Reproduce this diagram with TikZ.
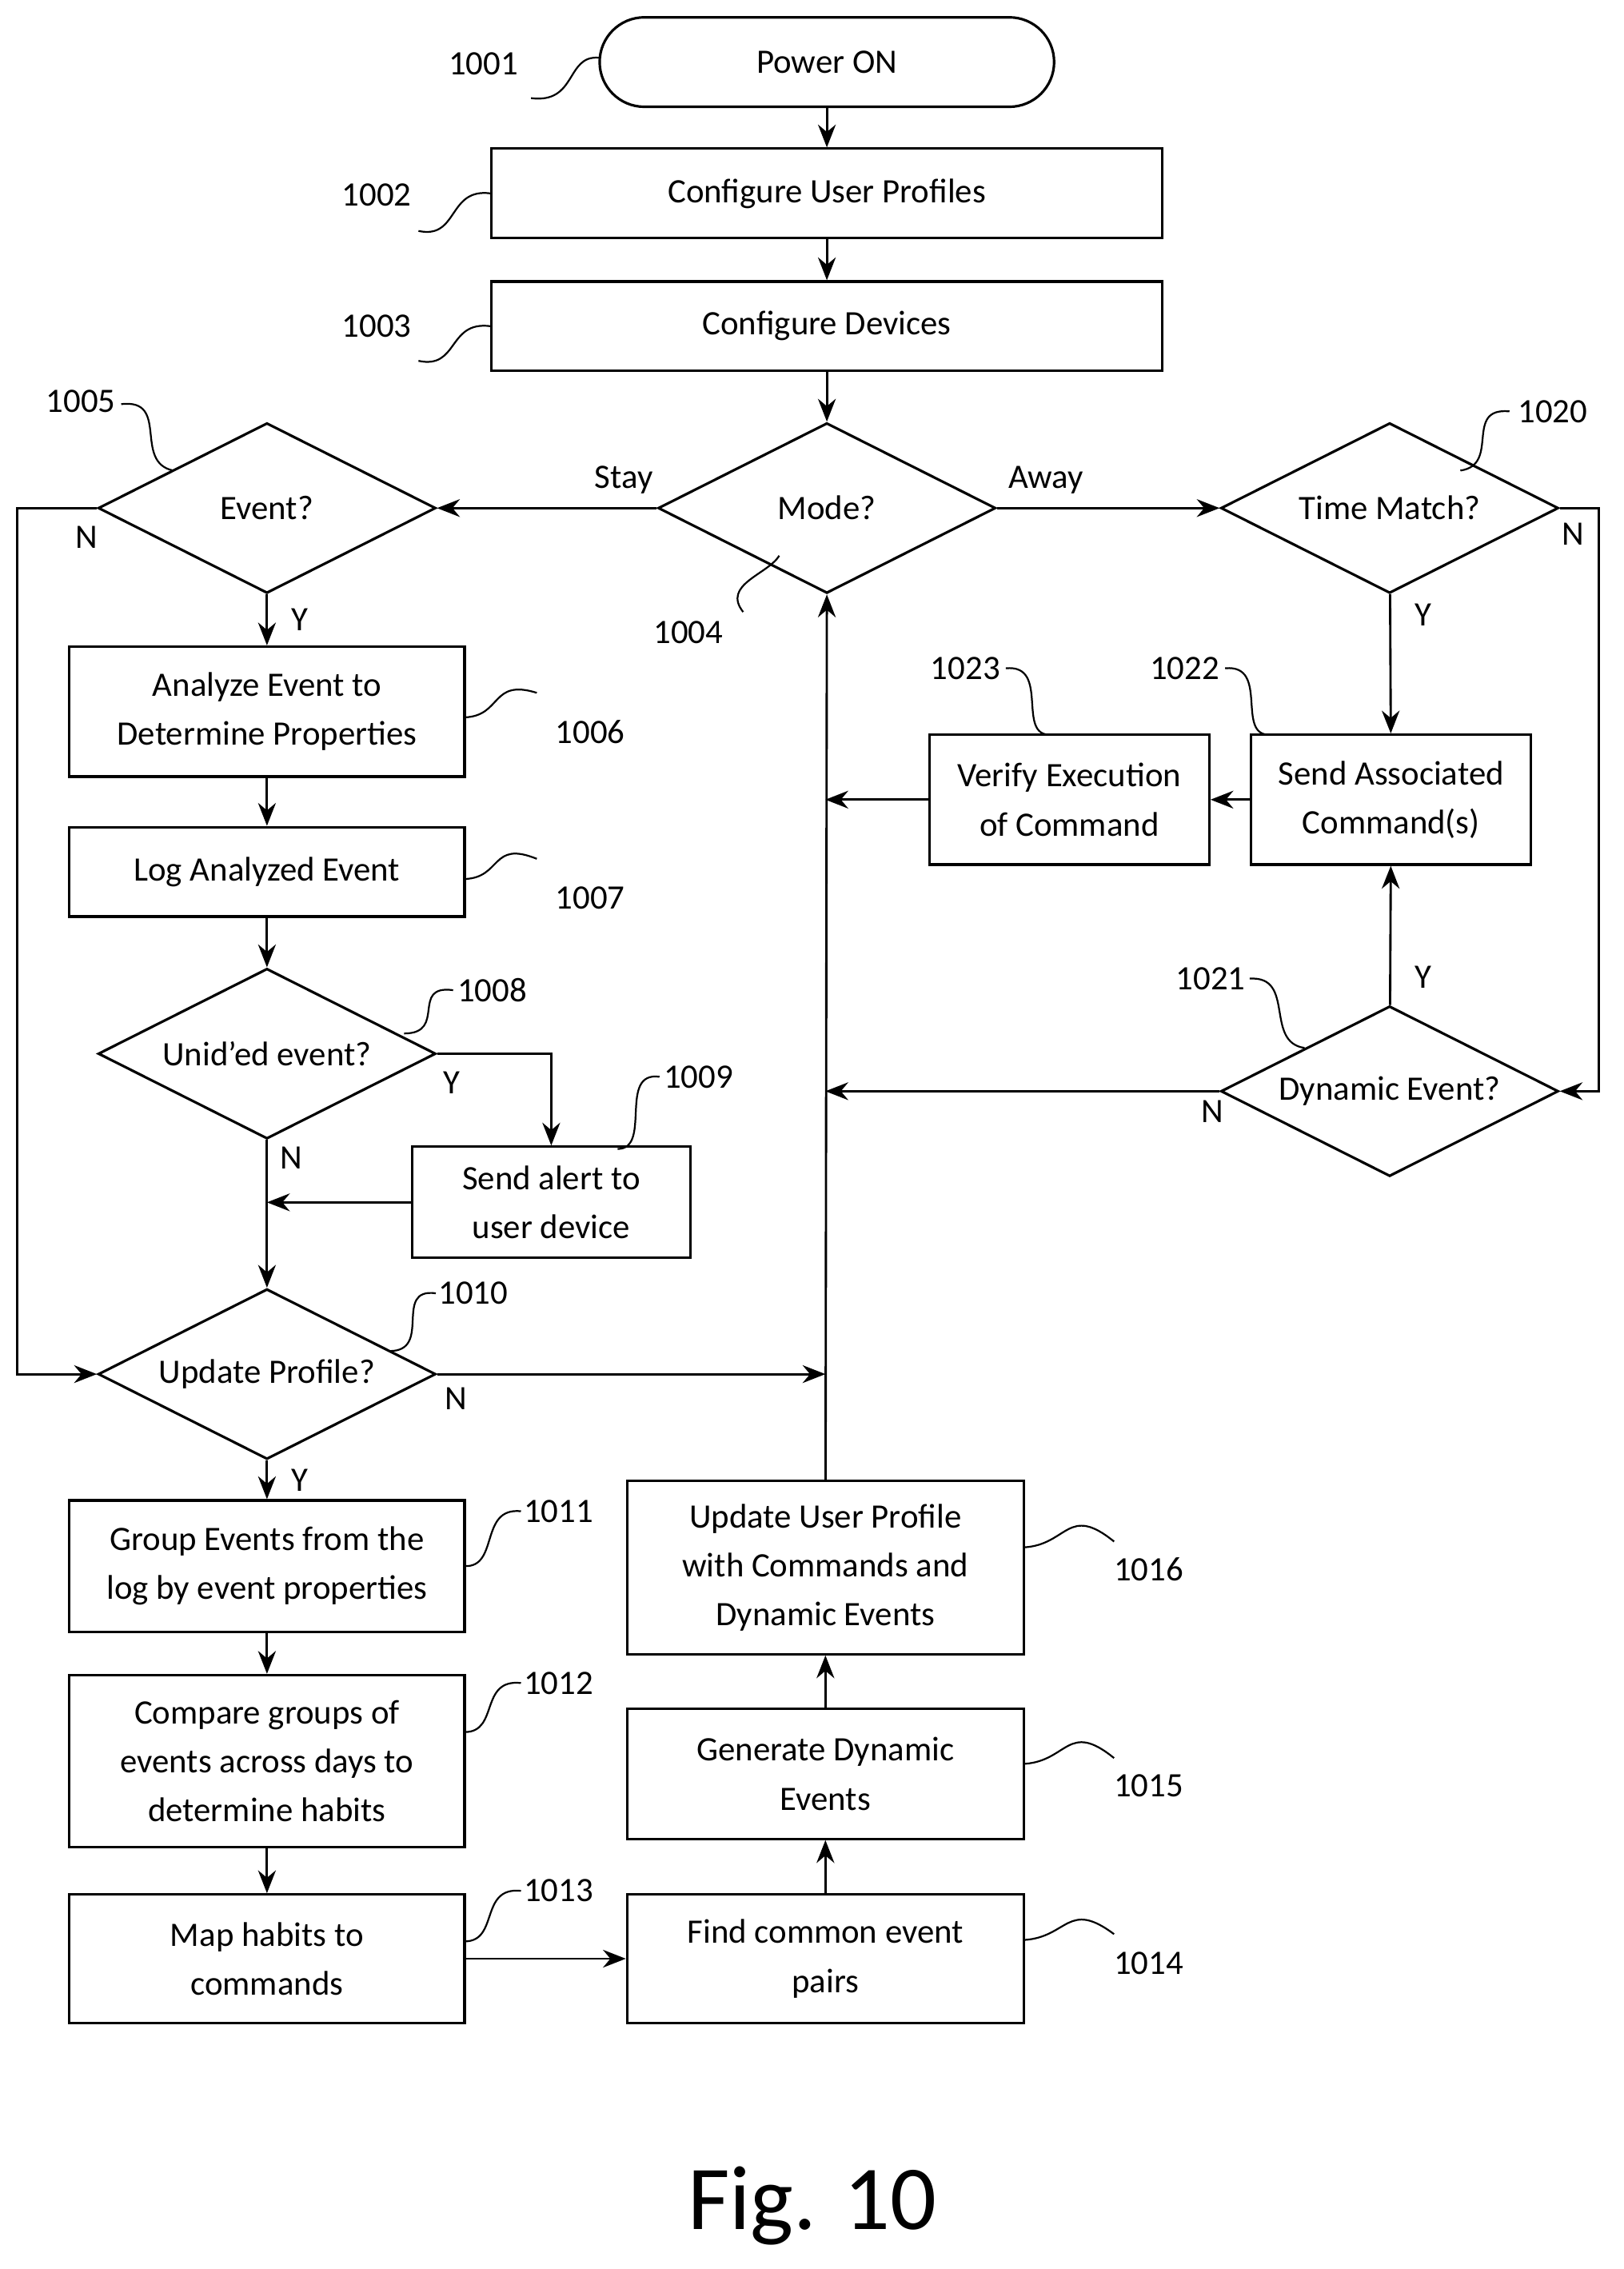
\documentclass[tikz,border=0pt]{standalone}
\usepackage{fontspec}
\setmainfont{Carlito}
\usetikzlibrary{shapes.geometric,arrows.meta}

\tikzset{
  txt/.style={font=\fontsize{13.5}{19.3}\selectfont},
  box/.style={draw,line width=1pt,txt,align=center,inner sep=0pt},
  term/.style={box,rounded corners=0.62cm,minimum width=6.3cm,minimum height=1.24cm},
  dia/.style={draw,line width=1pt,diamond,minimum width=4.68cm,minimum height=2.36cm,inner sep=0pt},
  flow/.style={line width=0.9pt,-{Stealth[length=9pt,width=7pt]}},
  lead/.style={line width=0.7pt},
  num/.style={txt},
  yn/.style={txt}
}
\newcommand{\refnum}[5]{% text pos, text, leader start, leader end
  \node[num] at #1 {#2};
  \draw[lead] #3 .. controls #4 .. #5;}

\begin{document}
\begin{tikzpicture}[x=0.02cm,y=-0.02cm]
\useasboundingbox (0,0) rectangle (1125,1572);

% main column
\node[term] (pwr) at (573,43) {Power ON};
\node[box,minimum width=9.3cm,minimum height=1.24cm] (prof) at (573,134) {Configure User Profiles};
\node[box,minimum width=9.3cm,minimum height=1.24cm] (dev) at (573,226) {Configure Devices};
\node[dia,label={[txt]center:Mode?}] (mode) at (573,352) {};

% stay branch
\node[dia,label={[txt]center:Event?}] (evt) at (185,352) {};
\node[box,minimum width=5.48cm,minimum height=1.8cm] (anl) at (185,493) {Analyze Event to\\Determine Properties};
\node[box,minimum width=5.48cm,minimum height=1.24cm] (log) at (185,604) {Log Analyzed Event};
\node[dia,label={[txt]center:Unid'ed event?}] (unid) at (185,730) {};
\node[box,minimum width=3.86cm,minimum height=1.54cm] (alert) at (382,833) {Send alert to\\user device};
\node[dia,label={[txt]center:Update Profile?}] (upd) at (185,952) {};
\node[box,minimum width=5.48cm,minimum height=1.82cm] (grp) at (185,1085) {Group Events from the\\log by event properties};
\node[box,minimum width=5.48cm,minimum height=2.38cm] (cmp) at (185,1220) {Compare groups of\\events across days to\\determine habits};
\node[box,minimum width=5.48cm,minimum height=1.78cm] (map) at (185,1357) {Map habits to\\commands};
\node[box,minimum width=5.5cm,minimum height=1.78cm] (pair) at (572,1357) {Find common event\\pairs};
\node[box,minimum width=5.5cm,minimum height=1.8cm] (gen) at (572,1229) {Generate Dynamic\\Events};
\node[box,minimum width=5.5cm,minimum height=2.4cm] (uup) at (572,1086) {Update User Profile\\with Commands and\\Dynamic Events};

% away branch
\node[dia,label={[txt]center:Time Match?}] (tm) at (963,352) {};
\node[box,minimum width=3.88cm,minimum height=1.8cm] (sac) at (964,554) {Send Associated\\Command(s)};
\node[box,minimum width=3.88cm,minimum height=1.8cm] (ver) at (741,554) {Verify Execution\\of Command};
\node[dia,label={[txt]center:Dynamic Event?}] (dyn) at (963,756) {};

\coordinate (lft) at (12,352);
\coordinate (rgt) at (1108,352);
\coordinate (jn) at (382,730);

% connectors
\draw[flow] (pwr) -- (prof);
\draw[flow] (prof) -- (dev);
\draw[flow] (dev) -- (mode);
\draw[flow] (mode.west) -- node[yn,above,pos=0.15,yshift=2pt] {Stay} (evt.east);
\draw[flow] (mode.east) -- node[yn,above,pos=0.22,yshift=2pt] {Away} (tm.west);
\draw[flow] (evt) -- node[yn,right,xshift=6pt] {Y} (anl);
\draw[flow] (evt.west) -- (lft) |- (upd.west);
\node[yn] at (60,372) {N};
\draw[flow] (anl) -- (log);
\draw[flow] (log) -- (unid);
\draw[flow] (unid.east) -- (jn) -- (alert.north);
\node[yn] at (313,750) {Y};
\draw[flow] (unid.south) -- (upd.north);
\node[yn] at (202,802) {N};
\draw[flow] (alert.west) -- (alert.west -| unid.south);
\draw[flow] (upd.east) -- (upd.east -| uup.north);
\node[yn] at (316,969) {N};
\draw[flow] (upd) -- node[yn,right,xshift=6pt] {Y} (grp);
\draw[flow] (grp) -- (cmp);
\draw[flow] (cmp) -- (map);
\draw[flow] (map) -- (pair);
\draw[flow] (pair) -- (gen);
\draw[flow] (gen) -- (uup);
\draw[flow] (uup) -- (mode.south);
\draw[flow] (tm) -- node[yn,right,pos=0.15,xshift=6pt] {Y} (sac);
\draw[flow] (tm.east) -- (rgt) |- (dyn.east);
\node[yn] at (1090,370) {N};
\draw[flow] (dyn) -- node[yn,right,pos=0.2,xshift=6pt] {Y} (sac);
\draw[flow] (dyn.west) -- (dyn.west -| uup.north);
\node[yn] at (840,770) {N};
\draw[flow] (sac) -- (ver);
\draw[flow] (ver.west) -- (ver.west -| uup.north);

% reference numerals
\refnum{(335,44)}{1001}{(368,68)}{(400,72) and (392,38)}{(415,40)}
\refnum{(261,135)}{1002}{(290,160)}{(318,166) and (310,130)}{(340,134)}
\refnum{(261,226)}{1003}{(290,250)}{(318,256) and (310,222)}{(340,226)}
\refnum{(56,278)}{1005}{(84,280)}{(118,276) and (92,320)}{(120,326)}
\refnum{(477,438)}{1004}{(515,424)}{(500,405) and (532,398)}{(540,385)}
\refnum{(1076,285)}{1020}{(1046,285)}{(1014,282) and (1040,322)}{(1012,326)}
\refnum{(409,507)}{1006}{(322,497)}{(348,496) and (340,470)}{(372,480)}
\refnum{(409,622)}{1007}{(322,609)}{(348,608) and (340,582)}{(372,595)}
\refnum{(341,686)}{1008}{(314,686)}{(284,682) and (310,716)}{(280,716)}
\refnum{(484,746)}{1009}{(457,746)}{(428,742) and (452,796)}{(428,796)}
\refnum{(328,896)}{1010}{(302,896)}{(272,892) and (300,936)}{(270,936)}
\refnum{(387,1047)}{1011}{(361,1047)}{(332,1044) and (346,1086)}{(322,1085)}
\refnum{(387,1166)}{1012}{(361,1166)}{(332,1163) and (346,1200)}{(322,1200)}
\refnum{(387,1310)}{1013}{(361,1310)}{(332,1307) and (346,1345)}{(322,1345)}
\refnum{(796,1087)}{1016}{(710,1072)}{(740,1070) and (740,1042)}{(772,1068)}
\refnum{(796,1237)}{1015}{(710,1222)}{(740,1220) and (740,1192)}{(772,1218)}
\refnum{(796,1360)}{1014}{(710,1344)}{(740,1342) and (740,1316)}{(772,1340)}
\refnum{(669,463)}{1023}{(697,463)}{(728,460) and (704,510)}{(728,509)}
\refnum{(821,463)}{1022}{(849,463)}{(880,460) and (856,510)}{(880,509)}
\refnum{(839,678)}{1021}{(866,678)}{(898,676) and (876,722)}{(904,726)}

\node[font=\fontsize{36}{40}\selectfont] (fig) at (563,1528) {Fig. 10};
\end{tikzpicture}
\end{document}
